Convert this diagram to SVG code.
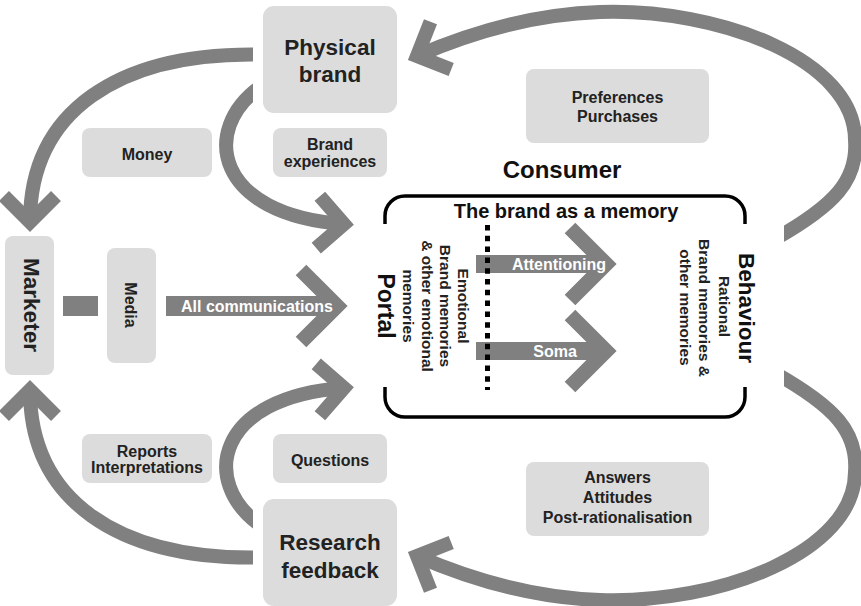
<svg xmlns="http://www.w3.org/2000/svg" width="861" height="606" viewBox="0 0 861 606">
  <style>
    .box { fill: #dcdcdc; }
    .lbl { font-family: "Liberation Sans", Arial, Helvetica, sans-serif; font-weight: bold; fill: #222; text-anchor: middle; }
    .big { font-size: 22.5px; }
    .sm { font-size: 16px; }
    .rot { font-size: 15.5px; }
    .inv { fill: #ffffff; }
    .band { fill: none; stroke: #808080; stroke-width: 14; }
    .shaft { fill: none; stroke: #808080; }
    .chev { fill: none; stroke: #808080; stroke-linejoin: miter; stroke-linecap: butt; }
    .frame { fill: none; stroke: #000; stroke-width: 3.5; stroke-linecap: butt; }
  </style>
  <defs>
    <!-- open chevron heads: the vertex sits on the path end -->
    <marker id="chev-c" markerUnits="userSpaceOnUse" orient="auto" viewBox="-60 -60 120 120" markerWidth="120" markerHeight="120" refX="0" refY="0" overflow="visible">
      <polyline class="chev" stroke-width="14" points="-26,-26 0,0 -26,26"/>
    </marker>
    <marker id="chev-s" markerUnits="userSpaceOnUse" orient="auto" viewBox="-60 -60 120 120" markerWidth="120" markerHeight="120" refX="0" refY="0" overflow="visible">
      <polyline class="chev" stroke-width="15" points="-36,-36 0,0 -36,36"/>
    </marker>
    <!-- straight cuts where the bands leave a box -->
    <clipPath id="cut-left">
      <rect x="0" y="0" width="253" height="606"/>
      <rect x="0" y="110" width="861" height="392"/>
    </clipPath>
    <clipPath id="cut-top-right">
      <rect x="784" y="0" width="77" height="606"/>
      <rect x="0" y="0" width="861" height="120"/>
    </clipPath>
    <clipPath id="cut-bottom-right">
      <rect x="784" y="0" width="77" height="606"/>
      <rect x="0" y="492" width="861" height="114"/>
    </clipPath>
  </defs>

  <g id="connectors">
    <!-- Physical brand -> Marketer (money) -->
    <path class="band" d="M253,54.5 C120,54 30,110 30,222" marker-end="url(#chev-c)"/>
    <!-- Physical brand -> Consumer (brand experiences) -->
    <path class="band" clip-path="url(#cut-left)" d="M260,87 C200,130 215,215 344,224" marker-end="url(#chev-c)"/>
    <!-- Research feedback -> Consumer (questions) -->
    <path class="band" clip-path="url(#cut-left)" d="M260,525 C200,482 215,397 344,388" marker-end="url(#chev-c)"/>
    <!-- Research feedback -> Marketer (reports) -->
    <path class="band" d="M253,557.5 C120,558 30,502 30,390" marker-end="url(#chev-c)"/>
    <!-- Behaviour -> Physical brand (preferences, purchases) -->
    <path class="band" clip-path="url(#cut-top-right)" d="M775,239 C835,205 858,180 855,140 C855,60 720,8 600,12 C530,14.3 470,33 417,56" marker-end="url(#chev-c)"/>
    <!-- Behaviour -> Research feedback (answers, attitudes) -->
    <path class="band" clip-path="url(#cut-bottom-right)" d="M775,373 C835,407 858,432 855,472 C855,552 720,604 600,600 C530,597.7 470,579 417,556" marker-end="url(#chev-c)"/>
    <!-- Marketer - Media link -->
    <path class="shaft" stroke-width="20" d="M63,306 L98,306"/>
    <!-- Media -> Portal -->
    <path class="shaft" stroke-width="20" d="M166,306 L337,306" marker-end="url(#chev-s)"/>
    <text class="lbl sm inv" x="257" y="311.5">All communications</text>
    <!-- inside the memory: attentioning and soma -->
    <path class="shaft" stroke-width="18" d="M476,264 L606,264" marker-end="url(#chev-s)"/>
    <path class="shaft" stroke-width="18" d="M476,351 L606,351" marker-end="url(#chev-s)"/>
  </g>

  <g id="consumer">
    <text class="lbl" x="562" y="178" style="font-size:24px;fill:#111">Consumer</text>
    <path class="frame" d="M385,224 L385,216 A20,20 0 0 1 405,196 L725,196 A20,20 0 0 1 745,216 L745,224"/>
    <path class="frame" d="M385,387 L385,397 A20,20 0 0 0 405,417 L725,417 A20,20 0 0 0 745,397 L745,387"/>
    <text class="lbl" x="566" y="218" style="font-size:20px;fill:#111">The brand as a memory</text>
    <line x1="487.5" y1="225" x2="487.5" y2="390" stroke="#000" stroke-width="5" stroke-dasharray="5.5 5.3"/>
    <text class="lbl sm inv" x="559" y="270">Attentioning</text>
    <text class="lbl sm inv" x="555" y="356.5">Soma</text>
    <g id="portal">
      <text class="lbl rot" transform="translate(457.5,306) rotate(90)">Emotional</text>
      <text class="lbl rot" transform="translate(440,306) rotate(90)">Brand memories</text>
      <text class="lbl rot" transform="translate(421.5,306) rotate(90)">&amp; other emotional</text>
      <text class="lbl rot" transform="translate(403,306) rotate(90)">memories</text>
      <text class="lbl" style="font-size:23px;fill:#111" transform="translate(378,306) rotate(90)">Portal</text>
    </g>
    <g id="behaviour">
      <text class="lbl" style="font-size:22.5px;fill:#111" transform="translate(739,308) rotate(90)">Behaviour</text>
      <text class="lbl rot" transform="translate(718.5,306.5) rotate(90)">Rational</text>
      <text class="lbl rot" transform="translate(699,308) rotate(90)">Brand memories &amp;</text>
      <text class="lbl rot" transform="translate(679.5,307.5) rotate(90)">other memories</text>
    </g>
  </g>

  <g id="physical-brand">
    <rect class="box" x="263" y="6" width="134" height="107" rx="11"/>
    <text class="lbl big" x="330" y="55">Physical</text>
    <text class="lbl big" x="330" y="82">brand</text>
  </g>

  <g id="research-feedback">
    <rect class="box" x="263" y="499" width="134" height="107" rx="11"/>
    <text class="lbl big" x="330" y="550">Research</text>
    <text class="lbl big" x="330" y="578">feedback</text>
  </g>

  <g id="marketer">
    <rect class="box" x="5" y="236" width="49" height="139" rx="8"/>
    <text class="lbl big" transform="translate(24,305) rotate(90)">Marketer</text>
  </g>

  <g id="media">
    <rect class="box" x="107" y="248" width="49" height="115" rx="8"/>
    <text class="lbl sm" transform="translate(125,305) rotate(90)">Media</text>
  </g>

  <g id="money">
    <rect class="box" x="82" y="128" width="130" height="49" rx="8"/>
    <text class="lbl sm" x="147" y="160">Money</text>
  </g>

  <g id="brand-experiences">
    <rect class="box" x="273" y="128" width="114" height="49" rx="8"/>
    <text class="lbl sm" x="330" y="150">Brand</text>
    <text class="lbl sm" x="330" y="167">experiences</text>
  </g>

  <g id="preferences-purchases">
    <rect class="box" x="526" y="69" width="183" height="74" rx="8"/>
    <text class="lbl sm" x="617.5" y="103">Preferences</text>
    <text class="lbl sm" x="617.5" y="121.5">Purchases</text>
  </g>

  <g id="reports-interpretations">
    <rect class="box" x="82" y="434" width="130" height="49" rx="8"/>
    <text class="lbl sm" x="147" y="456.5">Reports</text>
    <text class="lbl sm" x="147" y="473">Interpretations</text>
  </g>

  <g id="questions">
    <rect class="box" x="273" y="434" width="114" height="49" rx="8"/>
    <text class="lbl sm" x="330" y="465.5">Questions</text>
  </g>

  <g id="answers-attitudes">
    <rect class="box" x="526" y="462" width="183" height="74" rx="8"/>
    <text class="lbl sm" x="617.5" y="483">Answers</text>
    <text class="lbl sm" x="617.5" y="503">Attitudes</text>
    <text class="lbl sm" x="617.5" y="523">Post-rationalisation</text>
  </g>
</svg>
